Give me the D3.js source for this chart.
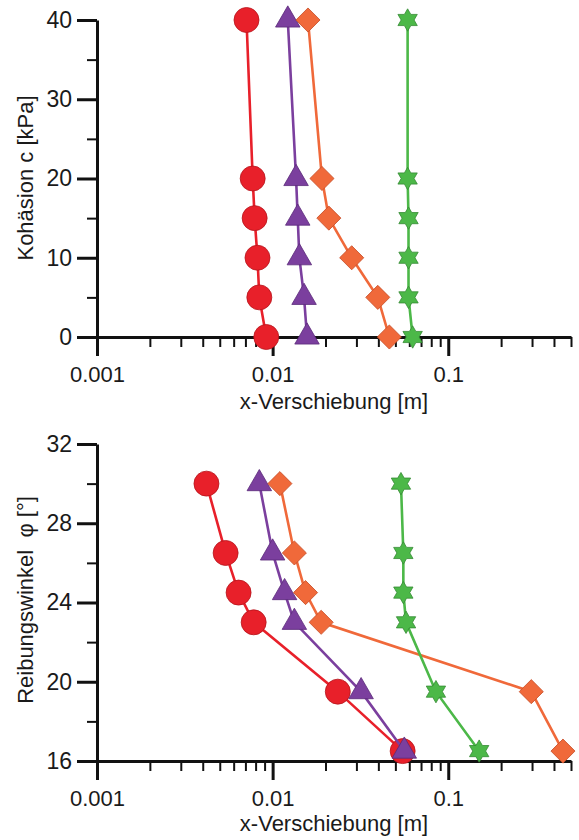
<!DOCTYPE html>
<html>
<head>
<meta charset="utf-8">
<script src="https://cdn.jsdelivr.net/npm/d3@7"></script>
<style>
  body { margin: 0; background: #fff; }
  text { font-family: "Liberation Sans", Arial, sans-serif; fill: #1a1a1a; }
</style>
</head>
<body>
<div id="vis"></div>
<script>
// y-Werte der beiden Diagramme
const cohesion = [40, 20, 15, 10, 5, 0];
const friction = [30, 26.5, 24.5, 23, 19.5, 16.5];

// x-Verschiebung [m], oben (Kohäsion)
const cohRed    = [0.0071, 0.0077, 0.0079, 0.0082, 0.0084, 0.0092];
const cohPurple = [0.0122, 0.0136, 0.0139, 0.0142, 0.0151, 0.0157];
const cohOrange = [0.0159, 0.0191, 0.0209, 0.0282, 0.0397, 0.0462];
const cohGreen  = [0.0587, 0.0587, 0.0594, 0.0594, 0.0594, 0.0627];

// x-Verschiebung [m], unten (Reibungswinkel)
const friRed    = [0.0042, 0.0054, 0.0064, 0.0078, 0.0235, 0.055];
const friPurple = [0.0084, 0.0100, 0.0117, 0.0133, 0.0319, 0.0562];
const friOrange = [0.0110, 0.0133, 0.0154, 0.0189, 0.297, 0.45];
const friGreen  = [0.0538, 0.0555, 0.0555, 0.0575, 0.0851, 0.150];

const xTicks = [0.001, 0.01, 0.1];
const xTickLabels = ["0.001", "0.01", "0.1"];
const cohTicks = [0, 10, 20, 30, 40];
const cohMinor = [5, 15, 25, 35];
const friTicks = [16, 20, 24, 28, 32];
const friMinor = [18, 22, 26, 30];

const COLORS = { red: "#e8202a", purple: "#7b3f9e", orange: "#f0693a", green: "#4cb848" };
const STROKES = { red: "#b5141c", purple: "#5a2a78", orange: "#c8502a", green: "#358a33" };

const WIDTH = 579;
const HEIGHT = 840;
const X0 = 97;
const X1 = 571;

const svg = d3.select("#vis").append("svg")
  .attr("width", WIDTH)
  .attr("height", HEIGHT);

const x = d3.scaleLog().domain([0.001, 0.5]).range([X0, X1]);
const minorX = x.ticks().filter(t => !xTicks.some(m => Math.abs(m - t) / m < 1e-6));

// sechszackiger Stern
const hexagram = {
  draw(context, size) {
    const r = Math.sqrt(size);
    const ri = r / Math.sqrt(3);
    for (let k = 0; k < 12; k++) {
      const a = (-90 + k * 30) * Math.PI / 180;
      const rr = k % 2 === 0 ? r : ri;
      if (k === 0) context.moveTo(rr * Math.cos(a), rr * Math.sin(a));
      else context.lineTo(rr * Math.cos(a), rr * Math.sin(a));
    }
    context.closePath();
  }
};

const SYMBOLS = {
  red: { type: d3.symbolCircle, size: 490, rotate: 0 },
  purple: { type: d3.symbolTriangle, size: 260, rotate: 0 },
  orange: { type: d3.symbolSquare, size: 290, rotate: 45 },
  green: { type: hexagram, size: 125, rotate: 0 },
};

function drawPanel(cfg) {
  const y = d3.scaleLinear().domain(cfg.yDomain).range([cfg.yBottom, cfg.yTop]);
  const g = svg.append("g");

  // x-Achse: Hauptticks + Nebenticks
  g.append("g")
    .attr("transform", `translate(0, ${cfg.yBottom})`)
    .call(d3.axisBottom(x).tickValues(minorX).tickFormat("").tickSize(10).tickSizeOuter(0))
    .call(a => a.select(".domain").remove())
    .call(a => a.selectAll("line").attr("stroke", "#111").attr("stroke-width", 2));

  g.append("g")
    .attr("transform", `translate(0, ${cfg.yBottom})`)
    .call(d3.axisBottom(x).tickValues(xTicks).tickFormat((d, i) => xTickLabels[i])
      .tickSize(19).tickPadding(10).tickSizeOuter(0))
    .call(a => a.select(".domain").attr("stroke", "#111").attr("stroke-width", 3))
    .call(a => a.selectAll("line").attr("stroke", "#111").attr("stroke-width", 3))
    .call(a => a.selectAll("text").attr("font-size", 22).attr("fill", "#1a1a1a"));

  // y-Achse
  g.append("g")
    .attr("transform", `translate(${X0}, 0)`)
    .call(d3.axisLeft(y).tickValues(cfg.minor).tickFormat("").tickSize(10).tickSizeOuter(0))
    .call(a => a.select(".domain").remove())
    .call(a => a.selectAll("line").attr("stroke", "#111").attr("stroke-width", 2));

  g.append("g")
    .attr("transform", `translate(${X0}, 0)`)
    .call(d3.axisLeft(y).tickValues(cfg.ticks).tickSize(20).tickPadding(5).tickSizeOuter(0))
    .call(a => a.select(".domain").attr("stroke", "#111").attr("stroke-width", 3))
    .call(a => a.selectAll("line").attr("stroke", "#111").attr("stroke-width", 3))
    .call(a => a.selectAll("text").attr("font-size", 23).attr("fill", "#1a1a1a"));

  // Achsentitel
  g.append("text")
    .attr("x", (X0 + X1) / 2 + 0)
    .attr("y", cfg.xTitleY)
    .attr("text-anchor", "middle")
    .attr("font-size", 22)
    .text("x-Verschiebung [m]");

  g.append("text")
    .attr("transform", `translate(33, ${cfg.yTitleCenter}) rotate(-90)`)
    .attr("text-anchor", "middle")
    .attr("font-size", 22)
    .style("white-space", "pre")
    .text(cfg.yTitle);

  const line = d3.line()
    .x(d => x(d[0]))
    .y(d => y(d[1]));

  cfg.series.forEach(s => {
    const pts = s.values.map((v, i) => [v, cfg.yValues[i]]);
    g.append("path")
      .datum(pts)
      .attr("fill", "none")
      .attr("stroke", COLORS[s.color])
      .attr("stroke-width", 2.6)
      .attr("d", line);

    const sym = SYMBOLS[s.color];
    g.selectAll(null)
      .data(pts)
      .enter()
      .append("path")
      .attr("transform", d => `translate(${x(d[0])}, ${y(d[1])}) rotate(${sym.rotate})`)
      .attr("d", d3.symbol().type(sym.type).size(sym.size))
      .attr("fill", COLORS[s.color])
      .attr("stroke", STROKES[s.color])
      .attr("stroke-width", 0.8);
  });
}

drawPanel({
  yDomain: [0, 40], yTop: 20, yBottom: 337,
  ticks: cohTicks, minor: cohMinor,
  yValues: cohesion,
  xTitleY: 409, yTitleCenter: 178,
  yTitle: "Kohäsion c [kPa]",
  series: [
    { color: "red", values: cohRed },
    { color: "purple", values: cohPurple },
    { color: "orange", values: cohOrange },
    { color: "green", values: cohGreen },
  ],
});

drawPanel({
  yDomain: [16, 32], yTop: 444, yBottom: 761,
  ticks: friTicks, minor: friMinor,
  yValues: friction,
  xTitleY: 831, yTitleCenter: 600,
  yTitle: "Reibungswinkel  φ [°]",
  series: [
    { color: "red", values: friRed },
    { color: "purple", values: friPurple },
    { color: "orange", values: friOrange },
    { color: "green", values: friGreen },
  ],
});
</script>
</body>
</html>
